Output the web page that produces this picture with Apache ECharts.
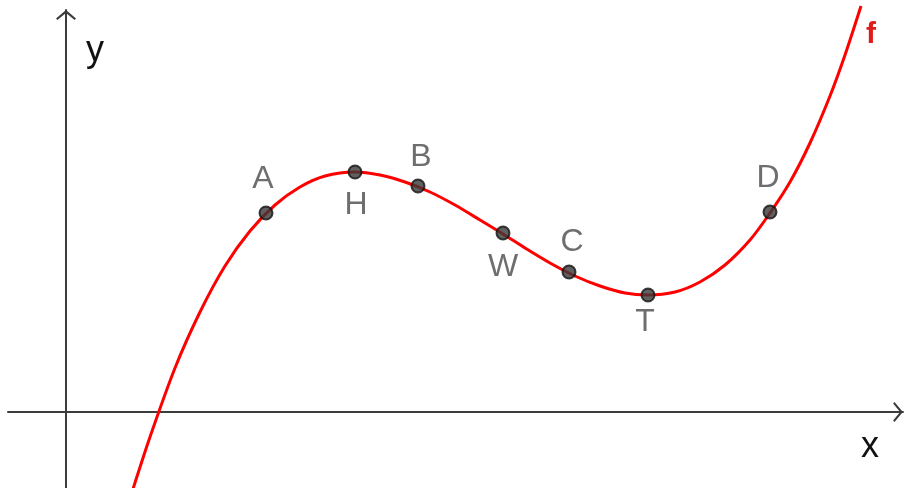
<!DOCTYPE html>
<html>
<head>
<meta charset="utf-8">
<script src="https://cdn.jsdelivr.net/npm/echarts@6/dist/echarts.min.js"></script>
<style>
  html, body { margin: 0; padding: 0; background: #ffffff; }
  #chart { width: 904px; height: 488px; }
</style>
</head>
<body>
<div id="chart"></div>
<script>
// Curve f (x, y in chart units; origin at the axes crossing)
const curveX = [0.67, 0.84, 1.09, 1.34, 1.59, 1.84, 2.09, 2.34, 2.59, 2.89, 3.14, 3.39, 3.64, 3.89, 4.14, 4.37, 4.59, 4.84, 5.09, 5.34, 5.59, 5.82, 6.09, 6.34, 6.59, 6.84, 7.04, 7.24, 7.44, 7.64, 7.79, 7.95];
const curveY = [-0.77, -0.25, 0.44, 1.00, 1.46, 1.81, 2.07, 2.25, 2.36, 2.40, 2.37, 2.30, 2.20, 2.07, 1.92, 1.78, 1.64, 1.49, 1.36, 1.26, 1.19, 1.17, 1.20, 1.30, 1.47, 1.72, 1.99, 2.30, 2.69, 3.16, 3.57, 4.06];

// Marked points on the curve
const pointNames = ['A', 'H', 'B', 'W', 'C', 'T', 'D'];
const pointX = [2.00, 2.89, 3.52, 4.37, 5.03, 5.82, 7.04];
const pointY = [1.99, 2.40, 2.26, 1.79, 1.40, 1.17, 2.00];

// Axis / series names
const xName = 'x';
const yName = 'y';
const curveName = 'f';

// Label placement (styling, kept apart from the data)
const labelSide = ['top', 'bottom', 'top', 'bottom', 'top', 'bottom', 'top'];
const labelGap = [10, 10, 5, 11, 6, 4, 10];
const labelShift = [-3, 1, 3, 0, 3, -3, -2];

const chevron = 'path://M0,8.4 L10,0 L20,8.4 L18.6,9.8 L10,2.8 L1.4,9.8 Z';
const axisColor = '#3c3c3c';

const chart = echarts.init(document.getElementById('chart'), null, { renderer: 'canvas' });

const curveData = curveX.map((x, i) => [x, curveY[i]]);
const pointData = pointNames.map((n, i) => ({
  name: n,
  value: [pointX[i], pointY[i]],
  label: { position: labelSide[i], distance: labelGap[i], offset: [labelShift[i], 0] }
}));

const option = {
  animation: false,
  backgroundColor: '#ffffff',
  grid: { left: 8, right: 1, top: 10, bottom: 0, containLabel: false, outerBoundsMode: 'none' },
  xAxis: {
    type: 'value',
    min: -0.58,
    max: 8.37,
    name: xName,
    nameLocation: 'end',
    nameGap: -33,
    nameTextStyle: {
      fontFamily: 'Liberation Sans', fontSize: 36, color: '#111',
      align: 'center', verticalAlign: 'top', lineHeight: 70
    },
    axisLine: {
      show: true, onZero: true,
      symbol: ['none', chevron], symbolSize: [20, 10], symbolOffset: [0, -5],
      lineStyle: { color: axisColor, width: 2 }
    },
    axisTick: { show: false },
    axisLabel: { show: false },
    splitLine: { show: false }
  },
  yAxis: {
    type: 'value',
    min: -0.76,
    max: 4.02,
    name: yName,
    nameLocation: 'end',
    nameGap: -41,
    nameTextStyle: {
      fontFamily: 'Liberation Sans', fontSize: 36, color: '#111',
      align: 'center', verticalAlign: 'middle', padding: [0, 0, 0, 58]
    },
    axisLine: {
      show: true, onZero: true,
      symbol: ['none', chevron], symbolSize: [20, 10], symbolOffset: [0, -5],
      lineStyle: { color: axisColor, width: 2 }
    },
    axisTick: { show: false },
    axisLabel: { show: false },
    splitLine: { show: false }
  },
  series: [
    {
      name: curveName,
      type: 'line',
      data: curveData,
      smooth: 0.3,
      showSymbol: false,
      clip: false,
      z: 2,
      lineStyle: { color: '#ff0000', width: 3 },
      endLabel: {
        show: true,
        formatter: '{a}',
        position: 'right',
        distance: 0,
        offset: [5, 29],
        color: '#e01b1b',
        fontFamily: 'Liberation Sans',
        fontWeight: 'bold',
        fontSize: 30
      }
    },
    {
      name: 'points',
      type: 'scatter',
      data: pointData,
      symbol: 'circle',
      symbolSize: 13,
      z: 3,
      itemStyle: { color: '#383838', borderColor: '#111111', borderWidth: 2 },
      label: {
        show: true,
        formatter: '{b}',
        fontFamily: 'Liberation Sans',
        fontSize: 32,
        color: '#4a4a4a'
      }
    }
  ]
};

chart.setOption(option);
</script>
</body>
</html>
